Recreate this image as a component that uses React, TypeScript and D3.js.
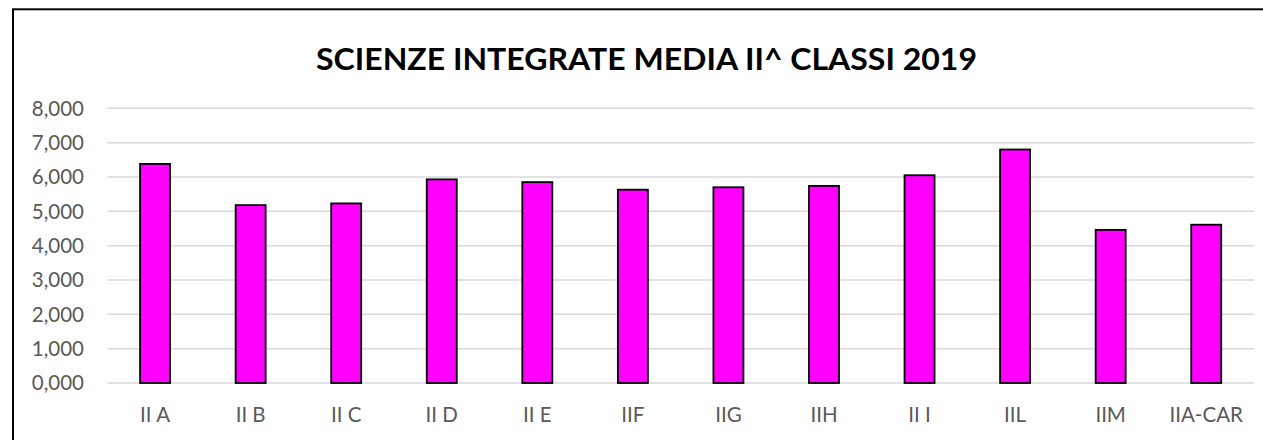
import { useEffect, useRef } from "react";
import * as d3 from "d3";

const classes = ["II A", "II B", "II C", "II D", "II E", "IIF", "IIG", "IIH", "III", "IIL", "IIM", "IIA-CAR"];
const classLabels = ["II A", "II B", "II C", "II D", "II E", "IIF", "IIG", "IIH", "II I", "IIL", "IIM", "IIA-CAR"];
const medie = [6.38, 5.18, 5.23, 5.93, 5.85, 5.63, 5.7, 5.74, 6.05, 6.8, 4.46, 4.61];
const yTicks = [0, 1, 2, 3, 4, 5, 6, 7, 8];
const title = "SCIENZE INTEGRATE MEDIA II^ CLASSI 2019";

export default function App() {
  const svgRef = useRef<SVGSVGElement>(null);

  useEffect(() => {
    if (!svgRef.current) return;
    document.body.style.margin = "0";

    const svg = d3.select(svgRef.current);
    svg.selectAll("*").remove();

    const width = 1263;
    const height = 440;
    const plot = { left: 107.3, right: 1254, top: 108.3, bottom: 383 };
    const font = "Lato, 'Open Sans', sans-serif";

    svg.append("rect").attr("width", width).attr("height", height).attr("fill", "#fff");

    // outer chart frame (cropped at right and bottom)
    svg
      .append("rect")
      .attr("x", 13)
      .attr("y", 9.3)
      .attr("width", width + 20)
      .attr("height", height + 20)
      .attr("fill", "none")
      .attr("stroke", "#000")
      .attr("stroke-width", 2);

    const x = d3
      .scaleBand<string>()
      .domain(classes)
      .range([plot.left, plot.right])
      .paddingInner(0.686)
      .paddingOuter(0.343);

    const y = d3.scaleLinear().domain([0, 8]).range([plot.bottom, plot.top]);
    const fmt = (v: number) => d3.format(".3f")(v).replace(".", ",");

    // gridlines
    svg
      .append("g")
      .selectAll("line")
      .data(yTicks)
      .join("line")
      .attr("x1", plot.left)
      .attr("x2", plot.right)
      .attr("y1", (d) => y(d))
      .attr("y2", (d) => y(d))
      .attr("stroke", "#d9d9d9")
      .attr("stroke-width", 1.5);

    // y labels
    svg
      .append("g")
      .selectAll("text")
      .data(yTicks)
      .join("text")
      .attr("x", 84)
      .attr("y", (d) => y(d))
      .attr("dy", "0.36em")
      .attr("text-anchor", "end")
      .attr("fill", "#595959")
      .style("font-family", font)
      .style("font-size", "20.5px")
      .text((d) => fmt(d));

    // bars
    svg
      .append("g")
      .selectAll("rect")
      .data(medie)
      .join("rect")
      .attr("x", (_, i) => x(classes[i])!)
      .attr("y", (d) => y(d))
      .attr("width", x.bandwidth())
      .attr("height", (d) => y(0) - y(d))
      .attr("fill", "#ff00ff")
      .attr("stroke", "#000")
      .attr("stroke-width", 1.8);

    // x labels
    svg
      .append("g")
      .selectAll("text")
      .data(classes)
      .join("text")
      .attr("x", (d) => x(d)! + x.bandwidth() / 2)
      .attr("y", 421.5)
      .attr("text-anchor", "middle")
      .attr("fill", "#595959")
      .style("font-family", font)
      .style("font-size", "20.5px")
      .text((_, i) => classLabels[i]);

    // title
    svg
      .append("text")
      .attr("x", 646.5)
      .attr("y", 70)
      .attr("text-anchor", "middle")
      .attr("fill", "#000")
      .attr("textLength", 661)
      .attr("lengthAdjust", "spacingAndGlyphs")
      .style("font-family", font)
      .style("font-size", "30px")
      .style("font-weight", "bold")
      .text(title);
  }, []);

  return (
    <svg
      ref={svgRef}
      width={1263}
      height={440}
      style={{ display: "block", position: "absolute", left: 0, top: 0 }}
    />
  );
}
